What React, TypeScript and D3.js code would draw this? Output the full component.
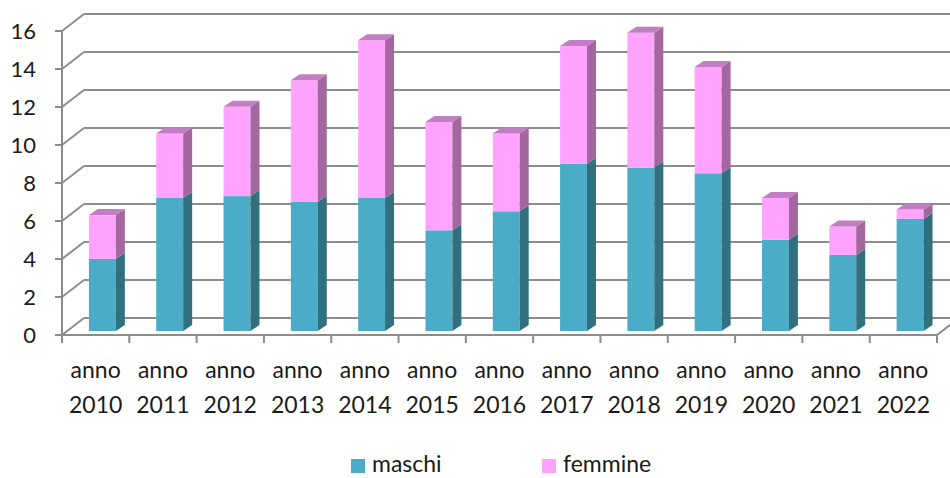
import React from 'react';
import * as d3 from 'd3';

const years = ['2010', '2011', '2012', '2013', '2014', '2015', '2016', '2017', '2018', '2019', '2020', '2021', '2022'];
const maschi = [3.8, 7.0, 7.1, 6.8, 7.0, 5.3, 6.3, 8.8, 8.6, 8.3, 4.8, 4.0, 5.9];
const femmine = [2.3, 3.4, 4.7, 6.4, 8.3, 5.7, 4.1, 6.2, 7.1, 5.6, 2.2, 1.5, 0.5];
const yTicks = [0, 2, 4, 6, 8, 10, 12, 14, 16];
const seriesNames = ['maschi', 'femmine'];

const App: React.FC = () => {
  const width = 950;
  const height = 478;
  const font = 'Lato, "Open Sans", sans-serif';

  // front plane of the 3D box
  const x0 = 62;
  const x1 = 937;
  // wall depth offset
  const wallDx = 22;
  const wallDy = -17;
  // bar depth offset
  const barDx = 9;
  const barDy = -6;
  const barShift = -4;

  const xScale = d3.scaleBand<string>().domain(years).range([x0, x1]);
  const yScale = d3.scaleLinear().domain([0, 16]).range([335, 31]);
  const bw = xScale.bandwidth();

  const stack = d3.stack<number>()
    .keys(['0', '1'])
    .value((i, key) => (key === '0' ? maschi[i] : femmine[i]));
  const stacked = stack(years.map((_, i) => i));

  const fills = [
    { front: '#4aacc6', side: '#31707f', top: '#3d8fa5' },
    { front: '#ffa3ff', side: '#a3669f', top: '#c27ec2' },
  ];

  const gridColor = '#8c8c8c';

  return (
    <div style={{ position: 'absolute', left: 0, top: 0 }}>
      <svg width={width} height={height} viewBox={`0 0 ${width} ${height}`} style={{ display: 'block', background: '#fff' }}>
        {/* back wall gridlines + left wall diagonals */}
        {yTicks.map(t => (
          <g key={t}>
            <line
              x1={x0 + wallDx}
              x2={width}
              y1={yScale(t) + wallDy}
              y2={yScale(t) + wallDy}
              stroke={gridColor}
              strokeWidth={2}
            />
            <line
              x1={x0}
              y1={yScale(t)}
              x2={x0 + wallDx}
              y2={yScale(t) + wallDy}
              stroke={gridColor}
              strokeWidth={2}
            />
            <line x1={x0 - 7} x2={x0} y1={yScale(t)} y2={yScale(t)} stroke={gridColor} strokeWidth={2} />
            <text
              x={36}
              y={yScale(t)}
              dy="0.36em"
              textAnchor="end"
              fontFamily={font}
              fontSize={22}
              fill="#1a1a1a"
            >
              {t}
            </text>
          </g>
        ))}

        {/* floor */}
        <line x1={x0} x2={x1} y1={yScale(0)} y2={yScale(0)} stroke={gridColor} strokeWidth={2} />
        <line x1={x1} y1={yScale(0)} x2={x1 + wallDx} y2={yScale(0) + wallDy} stroke={gridColor} strokeWidth={2} />
        <line x1={x0} x2={x0} y1={yScale(16)} y2={yScale(0)} stroke={gridColor} strokeWidth={2} />
        {[...years, 'end'].map((y, i) => {
          const xt = x0 + i * bw;
          return <line key={y} x1={xt} x2={xt} y1={yScale(0)} y2={yScale(0) + 8} stroke={gridColor} strokeWidth={2} />;
        })}

        {/* bars */}
        {years.map((yr, i) => {
          const bx = (xScale(yr) || 0) + bw * 0.4;
          const w = bw * 0.4;
          return (
            <g key={yr}>
              {stacked.map((s, k) => {
                const yb = yScale(s[i][0]) + barShift;
                const yt = yScale(s[i][1]) + barShift;
                const c = fills[k];
                const isTop = k === stacked.length - 1;
                return (
                  <g key={k}>
                    <rect x={bx} y={yt} width={w} height={yb - yt} fill={c.front} />
                    <path
                      d={`M${bx + w},${yb} L${bx + w + barDx},${yb + barDy} L${bx + w + barDx},${yt + barDy} L${bx + w},${yt} Z`}
                      fill={c.side}
                    />
                    {isTop && (
                      <path
                        d={`M${bx},${yt} L${bx + barDx},${yt + barDy} L${bx + w + barDx},${yt + barDy} L${bx + w},${yt} Z`}
                        fill={c.top}
                      />
                    )}
                  </g>
                );
              })}
            </g>
          );
        })}

        {/* category labels */}
        {years.map(yr => {
          const cx = (xScale(yr) || 0) + bw / 2;
          return (
            <text key={yr} x={cx} textAnchor="middle" fontFamily={font} fontSize={23} fill="#1a1a1a">
              <tspan x={cx} y={378}>anno</tspan>
              <tspan x={cx} y={413}>{yr}</tspan>
            </text>
          );
        })}

        {/* legend */}
        {seriesNames.map((name, k) => {
          const lx = k === 0 ? 351 : 542;
          return (
            <g key={name}>
              <rect x={lx} y={459} width={14} height={14} fill={fills[k].front} />
              <text x={lx + 21} y={472} fontFamily={font} fontSize={23} fill="#1a1a1a">
                {name}
              </text>
            </g>
          );
        })}
      </svg>
    </div>
  );
};

export default App;
